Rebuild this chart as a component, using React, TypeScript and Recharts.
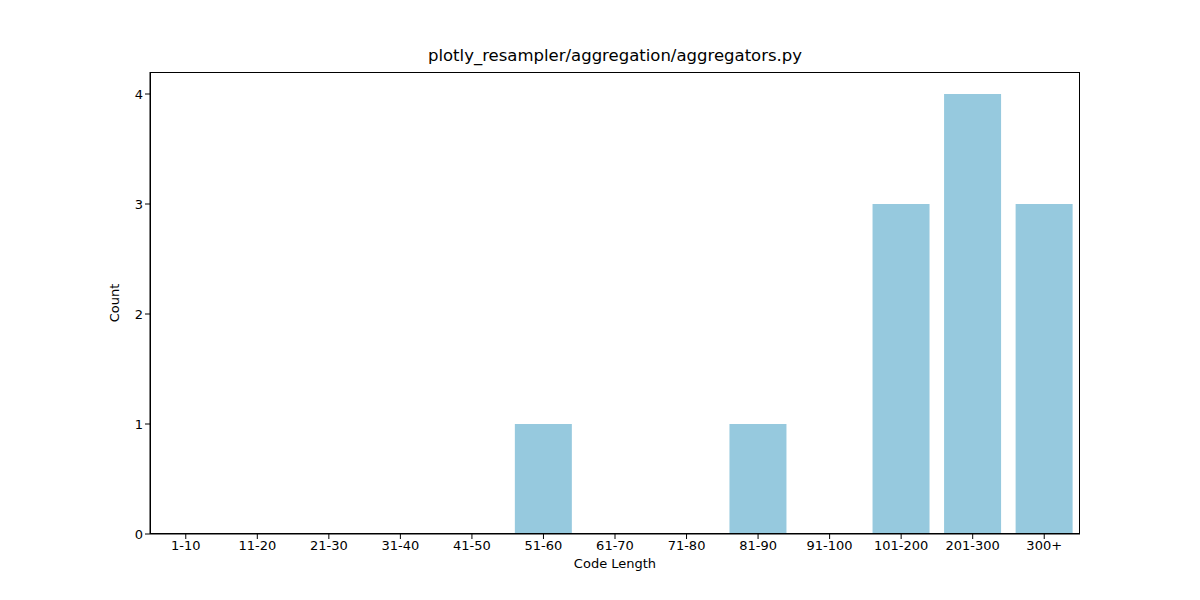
import { BarChart, Bar, XAxis, YAxis, Label } from 'recharts';

const categories = ['1-10', '11-20', '21-30', '31-40', '41-50', '51-60', '61-70', '71-80', '81-90', '91-100', '101-200', '201-300', '300+'];
const counts = [0, 0, 0, 0, 0, 1, 0, 0, 1, 0, 3, 4, 3];
const yTicks = [0, 1, 2, 3, 4];

const data = categories.map((c, i) => ({ name: c, count: counts[i] }));
const font = 'DejaVu Sans, sans-serif';

export default function App() {
  return (
    <div style={{ position: 'absolute', left: 0, top: 0, width: 1200, height: 600, background: '#fff', fontFamily: font }}>
      <div style={{ position: 'absolute', left: 150, width: 930, top: 46, textAlign: 'center', fontSize: 16.5, color: '#000' }}>
        plotly_resampler/aggregation/aggregators.py
      </div>
      <BarChart
        width={1200}
        height={600}
        data={data}
        margin={{ top: 72, right: 120, bottom: 36, left: 80 }}
        barCategoryGap="10%"
      >
        <XAxis
          dataKey="name"
          height={30}
          tick={{ fill: '#000', fontSize: 13, fontFamily: font }}
          tickSize={5}
          axisLine={{ stroke: '#000' }}
          tickLine={{ stroke: '#000' }}
        >
          <Label value="Code Length" position="insideBottom" offset={-4} style={{ fill: '#000', fontSize: 13, fontFamily: font }} />
        </XAxis>
        <YAxis
          width={70}
          domain={[0, 4.2]}
          ticks={yTicks}
          allowDataOverflow
          tick={{ fill: '#000', fontSize: 13, fontFamily: font }}
          tickSize={5}
          axisLine={{ stroke: '#000' }}
          tickLine={{ stroke: '#000' }}
        >
          <Label value="Count" angle={-90} position="insideLeft" offset={34} style={{ fill: '#000', fontSize: 13, fontFamily: font, textAnchor: 'middle' }} />
        </YAxis>
        <Bar dataKey="count" fill="#96c9de" isAnimationActive={false} />
      </BarChart>
      <div style={{ position: 'absolute', left: 150, top: 72, width: 930, height: 462, border: '1px solid #000', boxSizing: 'border-box', pointerEvents: 'none' }} />
    </div>
  );
}
